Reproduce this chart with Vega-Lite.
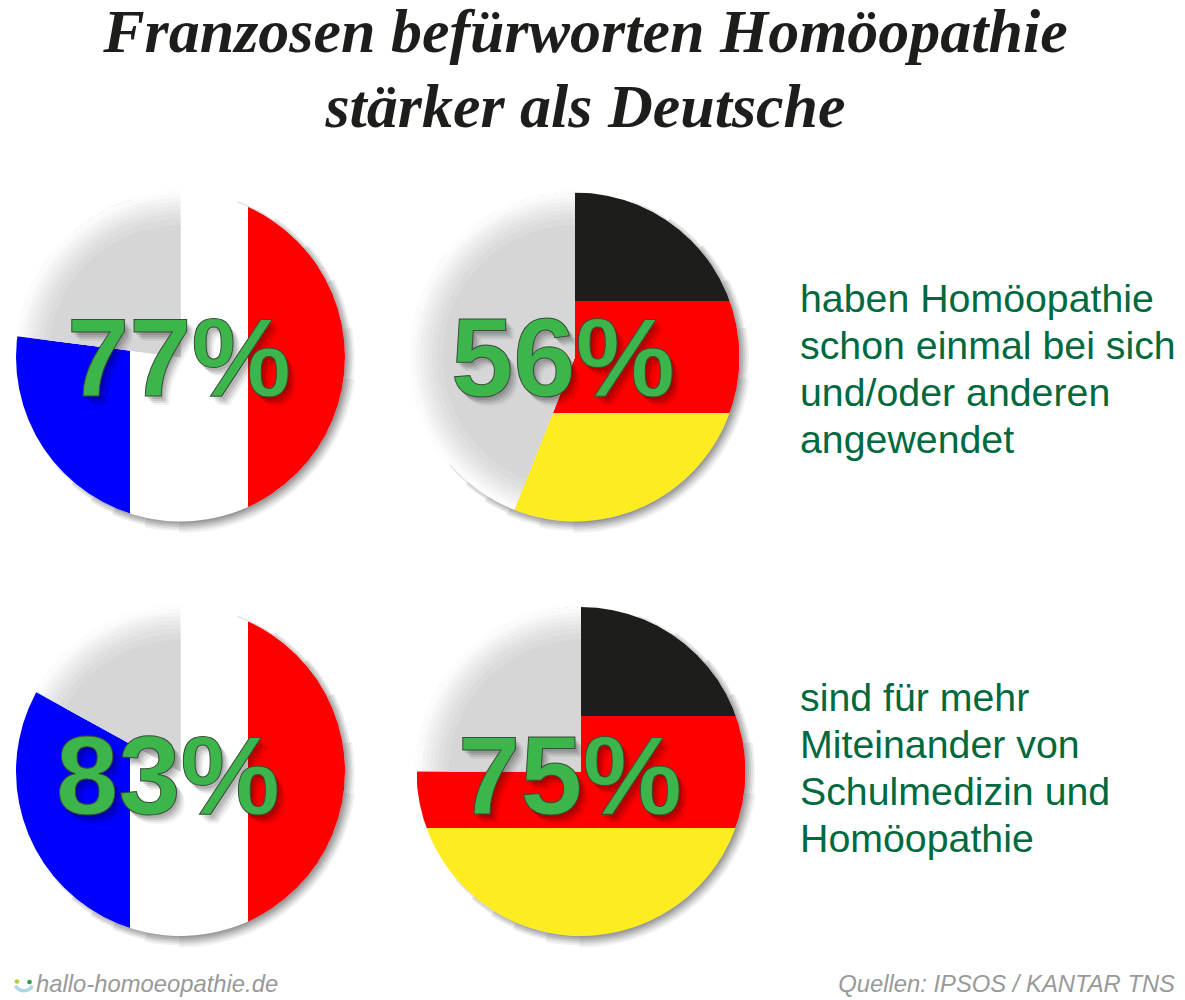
{"$schema":"https://vega.github.io/schema/vega-lite/v6.json","width":1185,"height":860,"padding":{"left":0,"top":140,"right":0,"bottom":0},"autosize":{"type":"none"},"background":"white","view":{"stroke":null},
"title":{"text":["Franzosen befürworten Homöopathie","stärker als Deutsche"],"font":"Liberation Serif","fontSize":62,"fontWeight":"bold","fontStyle":"italic","color":"#1d1d1b","lineHeight":75,"anchor":"middle","frame":"group","dx":-7,"offset":0},
"datasets":{
"panels":[
{"land":"Frankreich","frage":"angewendet","share":77,"end":100,"label":"77%","cx":180.5,"cy":357,"lx":179,"ly":396},
{"land":"Deutschland","frage":"angewendet","share":56,"end":100,"label":"56%","cx":575,"cy":357,"lx":563,"ly":396},
{"land":"Frankreich","frage":"Miteinander","share":83,"end":100,"label":"83%","cx":180.5,"cy":771.5,"lx":168,"ly":814},
{"land":"Deutschland","frage":"Miteinander","share":75,"end":100,"label":"75%","cx":581,"cy":771.5,"lx":570,"ly":814}],
"stripes":[
{"stripe":"Blau","x0":16,"x1":130,"y0":192.5,"y1":521.5},{"stripe":"Weiß","x0":130,"x1":248,"y0":192.5,"y1":521.5},{"stripe":"Rot","x0":248,"x1":345,"y0":192.5,"y1":521.5},
{"stripe":"Blau","x0":16,"x1":130,"y0":607,"y1":936},{"stripe":"Weiß","x0":130,"x1":248,"y0":607,"y1":936},{"stripe":"Rot","x0":248,"x1":345,"y0":607,"y1":936},
{"stripe":"Schwarz","x0":411,"x1":739.5,"y0":192.5,"y1":301},{"stripe":"Rot","x0":411,"x1":739.5,"y0":301,"y1":413},{"stripe":"Gelb","x0":411,"x1":739.5,"y0":413,"y1":521.5},
{"stripe":"Schwarz","x0":417,"x1":745.5,"y0":607,"y1":716},{"stripe":"Rot","x0":417,"x1":745.5,"y0":716,"y1":828},{"stripe":"Gelb","x0":417,"x1":745.5,"y0":828,"y1":936}],
"texts":[
{"t":"haben Homöopathie\nschon einmal bei sich\nund/oder anderen\nangewendet","x":800,"y":312},
{"t":"sind für mehr\nMiteinander von\nSchulmedizin und\nHomöopathie","x":800,"y":711}],
"logo":[{"name":"Blatt","x":17,"y":981.5},{"name":"Punkt","x":29.5,"y":982}],
"smile":[{"x":24,"y":981}]},
"layer":[
{"data":{"name":"stripes"},"mark":{"type":"rect"},"encoding":{"x":{"field":"x0","type":"quantitative","scale":{"domain":[0,1185],"nice":false,"zero":false},"axis":null},"x2":{"field":"x1"},"y":{"field":"y0","type":"quantitative","scale":{"domain":[1000,140],"nice":false,"zero":false},"axis":null},"y2":{"field":"y1"},"fill":{"field":"stripe","type":"nominal","scale":{"domain":["Blau","Weiß","Rot","Schwarz","Gelb"],"range":["#0000ff","#ffffff","#ff0000","#1d1d1b","#fdec1f"]},"legend":null}}},
{"data":{"name":"panels"},"layer":[
{"mark":{"type":"arc","radius":200,"radius2":164.5,"theta":0,"theta2":6.2832,"fill":"white"},"encoding":{"x":{"field":"cx","type":"quantitative"},"y":{"field":"cy","type":"quantitative"}}},
{"mark":{"type":"arc","radius":235,"radius2":199,"theta":0.58,"theta2":0.99,"fill":"white"},"encoding":{"x":{"field":"cx","type":"quantitative"},"y":{"field":"cy","type":"quantitative"}}},
{"mark":{"type":"arc","radius":235,"radius2":199,"theta":2.15,"theta2":2.56,"fill":"white"},"encoding":{"x":{"field":"cx","type":"quantitative"},"y":{"field":"cy","type":"quantitative"}}},
{"mark":{"type":"arc","radius":235,"radius2":199,"theta":3.72,"theta2":4.13,"fill":"white"},"encoding":{"x":{"field":"cx","type":"quantitative"},"y":{"field":"cy","type":"quantitative"}}},
{"mark":{"type":"arc","radius":235,"radius2":199,"theta":5.29,"theta2":5.7,"fill":"white"},"encoding":{"x":{"field":"cx","type":"quantitative"},"y":{"field":"cy","type":"quantitative"}}},
{"mark":{"type":"arc","radius":165,"fill":"white"},"encoding":{"x":{"field":"cx","type":"quantitative"},"y":{"field":"cy","type":"quantitative"},"theta":{"field":"share","type":"quantitative","stack":null,"scale":{"domain":[0,100],"range":[0,6.2832]}},"theta2":{"field":"end"}}},
{"mark":{"type":"arc","radius":167,"fill":"#d6d6d6","opacity":0.04},"encoding":{"x":{"field":"cx","type":"quantitative"},"y":{"field":"cy","type":"quantitative"},"theta":{"field":"share","type":"quantitative","stack":null},"theta2":{"field":"end"}}},
{"mark":{"type":"arc","radius":163,"fill":"#d6d6d6","opacity":0.083},"encoding":{"x":{"field":"cx","type":"quantitative"},"y":{"field":"cy","type":"quantitative"},"theta":{"field":"share","type":"quantitative","stack":null},"theta2":{"field":"end"}}},
{"mark":{"type":"arc","radius":159,"fill":"#d6d6d6","opacity":0.148},"encoding":{"x":{"field":"cx","type":"quantitative"},"y":{"field":"cy","type":"quantitative"},"theta":{"field":"share","type":"quantitative","stack":null},"theta2":{"field":"end"}}},
{"mark":{"type":"arc","radius":155,"fill":"#d6d6d6","opacity":0.173},"encoding":{"x":{"field":"cx","type":"quantitative"},"y":{"field":"cy","type":"quantitative"},"theta":{"field":"share","type":"quantitative","stack":null},"theta2":{"field":"end"}}},
{"mark":{"type":"arc","radius":151,"fill":"#d6d6d6","opacity":0.194},"encoding":{"x":{"field":"cx","type":"quantitative"},"y":{"field":"cy","type":"quantitative"},"theta":{"field":"share","type":"quantitative","stack":null},"theta2":{"field":"end"}}},
{"mark":{"type":"arc","radius":147,"fill":"#d6d6d6","opacity":0.24},"encoding":{"x":{"field":"cx","type":"quantitative"},"y":{"field":"cy","type":"quantitative"},"theta":{"field":"share","type":"quantitative","stack":null},"theta2":{"field":"end"}}},
{"mark":{"type":"arc","radius":143,"fill":"#d6d6d6","opacity":0.316},"encoding":{"x":{"field":"cx","type":"quantitative"},"y":{"field":"cy","type":"quantitative"},"theta":{"field":"share","type":"quantitative","stack":null},"theta2":{"field":"end"}}},
{"mark":{"type":"arc","radius":138,"fill":"#d6d6d6","opacity":0.462},"encoding":{"x":{"field":"cx","type":"quantitative"},"y":{"field":"cy","type":"quantitative"},"theta":{"field":"share","type":"quantitative","stack":null},"theta2":{"field":"end"}}},
{"mark":{"type":"arc","radius":132,"fill":"#d6d6d6"},"encoding":{"x":{"field":"cx","type":"quantitative"},"y":{"field":"cy","type":"quantitative"},"theta":{"field":"share","type":"quantitative","stack":null},"theta2":{"field":"end"}}},
{"mark":{"type":"arc","radius":166,"radius2":164.5,"theta":0.35,"theta2":4.0,"fill":"#000000","opacity":0.1},"encoding":{"x":{"field":"cx","type":"quantitative"},"y":{"field":"cy","type":"quantitative"}}},
{"mark":{"type":"arc","radius":168,"radius2":164.5,"theta":0.6,"theta2":3.85,"fill":"#000000","opacity":0.1},"encoding":{"x":{"field":"cx","type":"quantitative"},"y":{"field":"cy","type":"quantitative"}}},
{"mark":{"type":"arc","radius":170,"radius2":164.5,"theta":0.85,"theta2":3.7,"fill":"#000000","opacity":0.09},"encoding":{"x":{"field":"cx","type":"quantitative"},"y":{"field":"cy","type":"quantitative"}}},
{"mark":{"type":"arc","radius":172,"radius2":164.5,"theta":1.1,"theta2":3.55,"fill":"#000000","opacity":0.08},"encoding":{"x":{"field":"cx","type":"quantitative"},"y":{"field":"cy","type":"quantitative"}}},
{"mark":{"type":"arc","radius":174,"radius2":164.5,"theta":1.4,"theta2":3.35,"fill":"#000000","opacity":0.06},"encoding":{"x":{"field":"cx","type":"quantitative"},"y":{"field":"cy","type":"quantitative"}}},
{"mark":{"type":"arc","radius":176,"radius2":164.5,"theta":1.7,"theta2":3.15,"fill":"#000000","opacity":0.05},"encoding":{"x":{"field":"cx","type":"quantitative"},"y":{"field":"cy","type":"quantitative"}}},
{"mark":{"type":"text","font":"Liberation Sans","fontWeight":"bold","fontSize":112,"align":"center","baseline":"alphabetic","fill":"#000000","opacity":0.1,"dx":2,"dy":3},"encoding":{"x":{"field":"lx","type":"quantitative"},"y":{"field":"ly","type":"quantitative"},"text":{"field":"label"}}},
{"mark":{"type":"text","font":"Liberation Sans","fontWeight":"bold","fontSize":112,"align":"center","baseline":"alphabetic","fill":"#000000","opacity":0.1,"dx":4,"dy":5},"encoding":{"x":{"field":"lx","type":"quantitative"},"y":{"field":"ly","type":"quantitative"},"text":{"field":"label"}}},
{"mark":{"type":"text","font":"Liberation Sans","fontWeight":"bold","fontSize":112,"align":"center","baseline":"alphabetic","fill":"#000000","opacity":0.08,"dx":6,"dy":7},"encoding":{"x":{"field":"lx","type":"quantitative"},"y":{"field":"ly","type":"quantitative"},"text":{"field":"label"}}},
{"mark":{"type":"text","font":"Liberation Sans","fontWeight":"bold","fontSize":112,"align":"center","baseline":"alphabetic","fill":"#000000","opacity":0.05,"dx":8,"dy":9},"encoding":{"x":{"field":"lx","type":"quantitative"},"y":{"field":"ly","type":"quantitative"},"text":{"field":"label"}}},
{"mark":{"type":"text","font":"Liberation Sans","fontWeight":"bold","fontSize":112,"align":"center","baseline":"alphabetic","fill":"#3cb54a","stroke":"#3a4a3c","strokeWidth":1},"encoding":{"x":{"field":"lx","type":"quantitative"},"y":{"field":"ly","type":"quantitative"},"text":{"field":"label"}}}
]},
{"data":{"name":"texts"},"mark":{"type":"text","font":"Liberation Sans","fontSize":39.3,"align":"left","baseline":"alphabetic","lineBreak":"\n","lineHeight":47,"fill":"#00693e"},"encoding":{"x":{"field":"x","type":"quantitative"},"y":{"field":"y","type":"quantitative"},"text":{"field":"t"}}},
{"data":{"values":[{"t":"hallo-homoeopathie.de","x":36,"y":992}]},"mark":{"type":"text","font":"Liberation Sans","fontStyle":"italic","fontSize":23.8,"align":"left","baseline":"alphabetic","fill":"#999999"},"encoding":{"x":{"field":"x","type":"quantitative"},"y":{"field":"y","type":"quantitative"},"text":{"field":"t"}}},
{"data":{"values":[{"t":"Quellen: IPSOS / KANTAR TNS","x":1175,"y":992}]},"mark":{"type":"text","font":"Liberation Sans","fontStyle":"italic","fontSize":23.8,"align":"right","baseline":"alphabetic","fill":"#999999"},"encoding":{"x":{"field":"x","type":"quantitative"},"y":{"field":"y","type":"quantitative"},"text":{"field":"t"}}},
{"data":{"name":"smile"},"mark":{"type":"arc","radius":11.5,"radius2":8,"theta":2.1,"theta2":4.2,"fill":"#a9d8e3"},"encoding":{"x":{"field":"x","type":"quantitative"},"y":{"field":"y","type":"quantitative"}}},
{"data":{"name":"logo"},"mark":{"type":"point","filled":true,"opacity":1,"size":22},"encoding":{"x":{"field":"x","type":"quantitative"},"y":{"field":"y","type":"quantitative"},"color":{"field":"name","type":"nominal","scale":{"domain":["Blatt","Punkt"],"range":["#b5cf3a","#2e9e4f"]},"legend":null}}}
],
"resolve":{"scale":{"color":"independent"}}}
